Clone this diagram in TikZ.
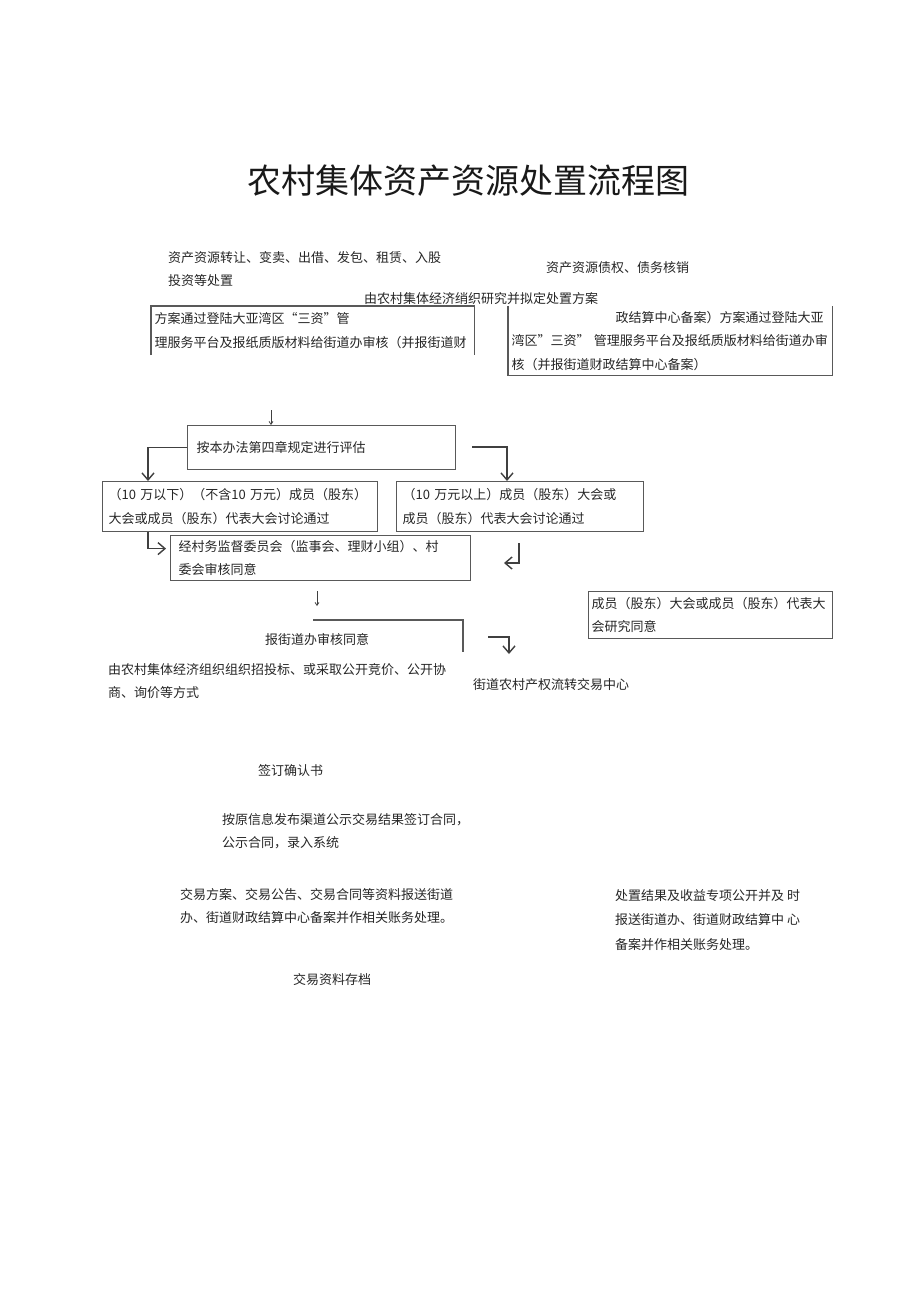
\documentclass[tikz,border=0pt]{standalone}
\usepackage{fontspec}
\setmainfont{Noto Sans CJK SC}
\usetikzlibrary{positioning,arrows.meta}
\newcommand{\bodyfont}{\fontsize{13}{23.5}\selectfont}
\tikzset{
  txt/.style={anchor=north west, align=left, inner sep=0pt, font=\bodyfont, text=black!85},
  frame/.style={draw=black!65, line width=1.2pt, anchor=north west, align=left,
    inner xsep=6pt, inner ysep=0pt, font=\bodyfont, text=black!85},
  open/.style={frame, draw=none},
  edge/.style={draw=black!65, line width=1.2pt},
  arr/.style={draw=black!75, line width=1.4pt, -{Straight Barb[length=7pt,width=12pt]}},
  tick/.style={draw=black!75, line width=0.7pt, -{Straight Barb[length=3pt,width=4pt]}}
}

\begin{document}
\begin{tikzpicture}[x=1pt,y=-1pt]
  \fill[white] (0,0) rectangle (920,1301);
  \useasboundingbox (0,0) rectangle (920,1301);

  % Title
  \node[font=\fontsize{34}{40}\selectfont, text=black!90] (title) at (468,181)
    {农村集体资产资源处置流程图};

  % Top texts
  \node[txt] (transfer) at (168,251) {资产资源转让、变卖、出借、发包、租赁、入股\\投资等处置};
  \node[txt] (writeoff) at (546,261) {资产资源债权、债务核销};
  \node[txt] (draft) at (364,292) {由农村集体经济绡织研究并拟定处置方案};

  % Plan boxes (open)
  \node[open, inner xsep=3pt, text width=316pt, minimum height=48pt] (planL) at (151,306)
    {方案通过登陆大亚湾区“三资”管\\理服务平台及报纸质版材料给街道办审核（并报街道财};
  \draw[edge] (planL.south west) -- (planL.north west) -- (planL.north east) -- (planL.south east);
  \node[open, inner xsep=3pt, text width=317pt, minimum height=68pt] (planR) at (508,306)
    {\hspace*{104pt}政结算中心备案）方案通过登陆大亚\\湾区"三资” 管理服务平台及报纸质版材料给街道办审\\核（并报街道财政结算中心备案）};
  \draw[edge] (planR.north west) -- (planR.south west) -- (planR.south east) -- (planR.north east);

  % Evaluation
  \node[frame, inner xsep=9pt, text width=250pt, minimum height=44pt] (eval) at (187,425)
    {按本办法第四章规定进行评估};
  \node[frame, text width=263pt, minimum height=50pt] (boxA) at (102,481)
    {（10 万以下）（不含10 万元）成员（股东）\\大会或成员（股东）代表大会讨论通过};
  \node[frame, text width=235pt, minimum height=50pt] (boxB) at (396,481)
    {（10 万元以上）成员（股东）大会或\\成员（股东）代表大会讨论通过};
  \node[frame, inner xsep=8pt, text width=284pt, minimum height=45pt] (boxC) at (170,535)
    {经村务监督委员会（监事会、理财小组）、村\\委会审核同意};
  \node[frame, inner xsep=3pt, text width=238pt, minimum height=47pt] (boxD) at (588,591)
    {成员（股东）大会或成员（股东）代表大\\会研究同意};

  % Arrows
  \coordinate (k1) at (271,410);
  \draw[tick] (k1) -- (k1 |- eval.north);
  \draw[arr] (eval.west) -| ([xshift=46pt]boxA.north west);
  \coordinate (k2) at (472,447);
  \draw[arr] (k2) -| ([xshift=111pt]boxB.north west);
  \draw[arr] ([xshift=46pt]boxA.south west) |- ([xshift=-4pt,yshift=9.5pt]boxC.west);
  \coordinate (r1) at (519,543);
  \coordinate (r2) at (504,563);
  \draw[arr] (r1) |- (r2);
  \coordinate (k3) at (317,591);
  \coordinate (k4) at (317,606);
  \draw[tick] (k3) -- (k4);
  \coordinate (b1) at (313,620);
  \coordinate (b2) at (463,652);
  \draw[edge] (b1) -| (b2);
  \coordinate (s1) at (488,637);
  \coordinate (s2) at (509,654);
  \draw[arr] (s1) -| (s2);

  % Lower texts
  \node[txt] (street) at (265,633) {报街道办审核同意};
  \node[txt] (bidding) at (108,663) {由农村集体经济组织组织招投标、或采取公开竞价、公开协\\商、询价等方式};
  \node[txt] (center) at (473,678) {街道农村产权流转交易中心};
  \node[txt] (confirm) at (258,764) {签订确认书};
  \node[txt] (contract) at (222,813) {按原信息发布渠道公示交易结果签订合同，\\公示合同，录入系统};
  \node[txt] (report) at (180,888) {交易方案、交易公告、交易合同等资料报送街道\\办、街道财政结算中心备案并作相关账务处理。};
  \node[txt, font=\fontsize{13}{24.5}\selectfont] (result) at (615,889)
    {处置结果及收益专项公开并及 时\\报送街道办、街道财政结算中 心\\备案并作相关账务处理。};
  \node[txt] (archive) at (293,973) {交易资料存档};
\end{tikzpicture}
\end{document}
